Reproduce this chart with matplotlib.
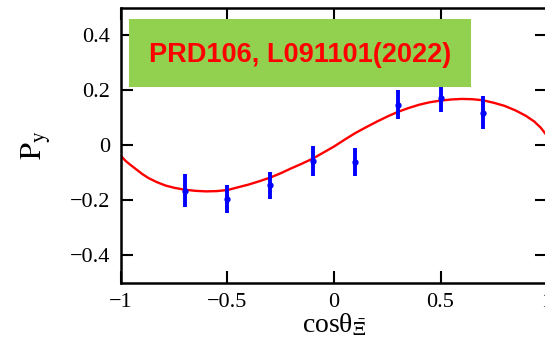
import matplotlib
matplotlib.use("Agg")
import matplotlib.pyplot as plt
from matplotlib.patches import Rectangle

# measured points (cos theta bins) with errors
cos_bins = [-0.7, -0.5, -0.3, -0.1, 0.1, 0.3, 0.5, 0.7]
py_vals  = [-0.164, -0.195, -0.145, -0.056, -0.061, 0.148, 0.172, 0.118]
py_errs  = [0.060, 0.051, 0.050, 0.055, 0.050, 0.052, 0.052, 0.060]

# fit curve
curve_x = [-1.0, -0.98, -0.96, -0.93, -0.90, -0.87, -0.83, -0.79, -0.75, -0.70,
           -0.65, -0.60, -0.55, -0.50, -0.45, -0.40, -0.35, -0.30, -0.25, -0.20,
           -0.15, -0.10, -0.05, 0.0, 0.05, 0.10, 0.15, 0.20, 0.25, 0.30,
           0.35, 0.40, 0.45, 0.50, 0.55, 0.60, 0.65, 0.70, 0.75, 0.80,
           0.85, 0.90, 0.94, 0.97, 1.0]
curve_y = [-0.038, -0.055, -0.068, -0.086, -0.104, -0.119, -0.134, -0.146, -0.154, -0.161,
           -0.165, -0.167, -0.166, -0.162, -0.152, -0.142, -0.130, -0.117, -0.101, -0.083,
           -0.066, -0.048, -0.026, -0.004, 0.021, 0.045, 0.066, 0.086, 0.105, 0.122,
           0.136, 0.148, 0.157, 0.163, 0.167, 0.169, 0.168, 0.164, 0.155, 0.144,
           0.128, 0.108, 0.087, 0.065, 0.035]

ref_text = "PRD106, L091101(2022)"

plt.rcParams["font.family"] = ["Liberation Serif", "DejaVu Serif"]
plt.rcParams["mathtext.fontset"] = "stix"

fig = plt.figure(figsize=(5.45, 3.42), dpi=100)
ax = fig.add_axes([0.222, 0.1725, 0.7817, 0.8045])

ax.plot(curve_x, curve_y, color="#ff0000", lw=1.7, zorder=2)
ax.errorbar(cos_bins, py_vals, yerr=py_errs, fmt="o", color="#0000ff",
            ms=3.5, elinewidth=2.8, capsize=0, zorder=3)

ax.set_xlim(-1, 1)
ax.set_ylim(-0.5, 0.5)
ax.set_xticks([-1, -0.5, 0, 0.5, 1])
ax.set_xticklabels(["\u22121", "\u22120.5", "0", "0.5", "1"])
ax.set_yticks([-0.4, -0.2, 0, 0.2, 0.4])
ax.set_yticklabels(["\u22120.4", "\u22120.2", "0", "0.2", "0.4"])
ax.tick_params(direction="in", length=8.5, width=1.5, labelsize=16,
               top=True, right=True, pad=8, colors="black")
ax.tick_params(axis="x", pad=7)
for s in ax.spines.values():
    s.set_linewidth(1.8)

ax.set_ylabel(r"$\mathrm{P_y}$", fontsize=22, labelpad=12)
ax.set_xlabel("cos\u03b8$_{\\bar{\\Xi}}$", fontsize=20, labelpad=0)

# reference label box
ax.add_patch(Rectangle((0.019, 0.713), 0.803, 0.248, transform=ax.transAxes,
                       facecolor="#92d050", edgecolor="none", zorder=4))
ax.text(0.42, 0.83, ref_text, transform=ax.transAxes, ha="center", va="center",
        color="#ff0000", fontsize=19.5, fontweight="bold",
        family=["Liberation Sans", "DejaVu Sans"], zorder=5)

fig.savefig("out.png", dpi=100)
